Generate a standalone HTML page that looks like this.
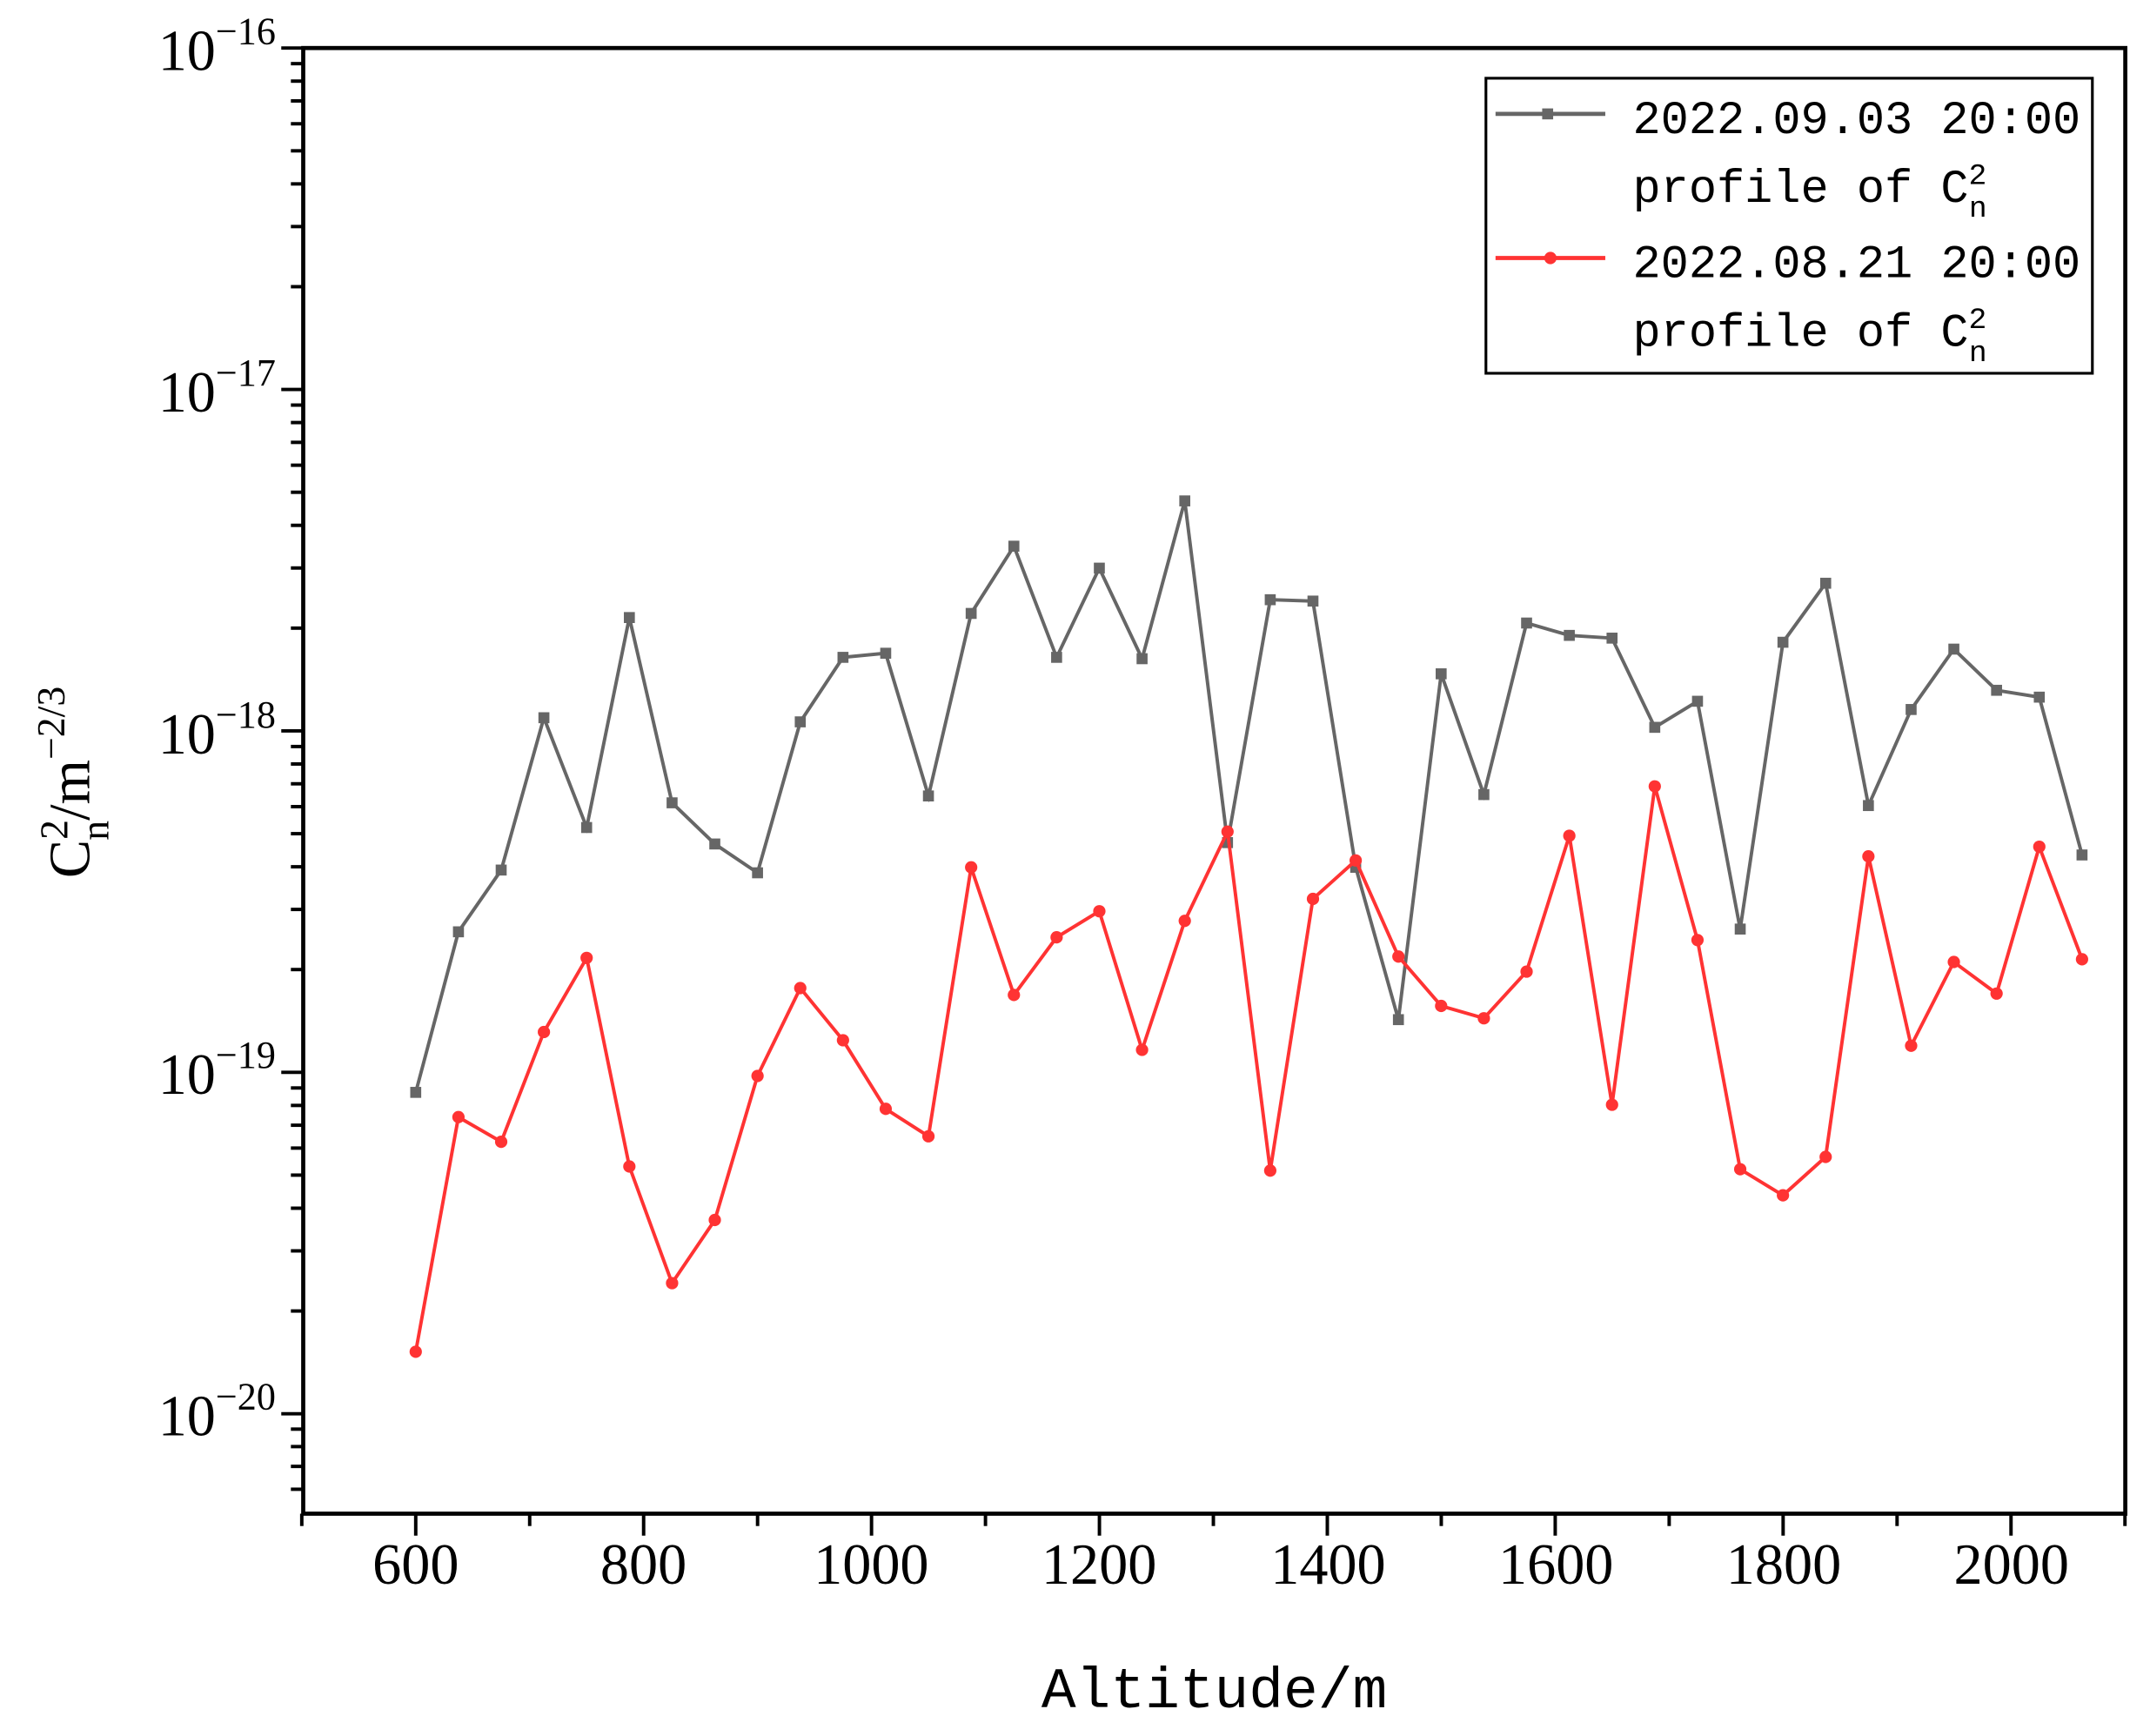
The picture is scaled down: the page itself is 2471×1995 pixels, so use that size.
<!DOCTYPE html>
<html><head><meta charset="utf-8"><style>
html,body{margin:0;padding:0;background:#fff;}
svg{display:block;}
.t{font-family:"Liberation Serif",serif;font-size:42px;fill:#000;}
.m{font-family:"Liberation Mono",monospace;fill:#000;}
</style></head><body>
<svg width="2471" height="1995" viewBox="0 0 1567 1265" preserveAspectRatio="none" xmlns="http://www.w3.org/2000/svg">
<rect width="1567" height="1265" fill="#fff"/>
<g id="ticks" stroke="#000" stroke-width="2.5"></g>
<rect x="221" y="35" width="1328" height="1068" fill="none" stroke="#000" stroke-width="3"/>
<g class="t" text-anchor="end">
<text x="201" y="51">10<tspan dy="-19" font-size="28">−16</tspan></text>
<text x="201" y="300">10<tspan dy="-19" font-size="28">−17</tspan></text>
<text x="201" y="549">10<tspan dy="-19" font-size="28">−18</tspan></text>
<text x="201" y="797">10<tspan dy="-19" font-size="28">−19</tspan></text>
<text x="201" y="1046">10<tspan dy="-19" font-size="28">−20</tspan></text>
</g>
<g class="t" text-anchor="middle">
<text x="303" y="1154">600</text><text x="469" y="1154">800</text><text x="635" y="1154">1000</text>
<text x="801" y="1154">1200</text><text x="968" y="1154">1400</text><text x="1134" y="1154">1600</text>
<text x="1300" y="1154">1800</text><text x="1466" y="1154">2000</text>
</g>
<text class="m" x="885" y="1244" font-size="42" text-anchor="middle">Altitude/m</text>
<text class="t" transform="translate(65,570) rotate(-90)" text-anchor="middle" font-size="44">C<tspan dy="-16" font-size="29">2</tspan><tspan dx="-15" dy="30" font-size="29">n</tspan><tspan dy="-14">/m</tspan><tspan dy="-18" font-size="29">−2/3</tspan></text>
<g id="series"></g>
<rect x="1083" y="57" width="442" height="215" fill="#fff" stroke="#000" stroke-width="2"/>
<line x1="1090" y1="83" x2="1170" y2="83" stroke="#666" stroke-width="3"/><rect x="1124" y="79" width="8" height="8" fill="#666"/>
<line x1="1090" y1="188" x2="1170" y2="188" stroke="#f33" stroke-width="3"/><circle cx="1130" cy="188" r="4.5" fill="#f33"/>
<g class="m" font-size="34">
<text x="1190" y="97">2022.09.03 20:00</text>
<text x="1190" y="147">profile of C<tspan dy="-13" font-size="22">2</tspan><tspan dx="-13" dy="24" font-size="22">n</tspan></text>
<text x="1190" y="202">2022.08.21 20:00</text>
<text x="1190" y="252">profile of C<tspan dy="-13" font-size="22">2</tspan><tspan dx="-13" dy="24" font-size="22">n</tspan></text>
</g>
<script>
var ns="http://www.w3.org/2000/svg";
function el(n,a,p){var e=document.createElementNS(ns,n);for(var k in a)e.setAttribute(k,a[k]);p.appendChild(e);return e;}
var tk=document.getElementById('ticks');
for(var d=0;d<5;d++){var y0=35+d*248.8;el('line',{x1:205,y1:y0,x2:221,y2:y0},tk);
 if(d<4)for(var i=2;i<10;i++){var y=y0+248.8-Math.log10(i)*248.8;el('line',{x1:212,y1:y,x2:221,y2:y},tk);}}
for(var i=2;i<10;i++){var y=1030+248.8-Math.log10(i)*248.8;if(y<1103)el('line',{x1:212,y1:y,x2:221,y2:y},tk);}
for(var v=500;v<=2100;v+=100){var x=303+(v-600)*0.8305;el('line',{x1:x,y1:1103,x2:x,y2:(v%200==0?1119:1112)},tk);}
var g=[796,679,634,523,603,450,585,615,636,526,479,476,580,447,398,479,414,480,365,614,437,438,632,743,491,579,454,463,465,530,511,677,468,425,587,517,473,503,508,623];
var r=[985,814,832,752,698,850,935,889,784,720,758,808,828,632,725,683,664,765,671,606,853,655,627,697,733,742,708,609,805,573,685,852,871,843,624,762,701,724,617,699];
var s=document.getElementById('series');
function draw(a,c,sq){var pts=a.map(function(y,i){return (303+i*31.14).toFixed(1)+','+y;}).join(' ');
 el('polyline',{points:pts,fill:'none',stroke:c,'stroke-width':2.5},s);
 a.forEach(function(y,i){var x=303+i*31.14;if(sq)el('rect',{x:x-4,y:y-4,width:8,height:8,fill:c},s);else el('circle',{cx:x,cy:y,r:4.5,fill:c},s);});}
draw(g,'#666',true);draw(r,'#f33',false);
</script>
</svg>
</body></html>
